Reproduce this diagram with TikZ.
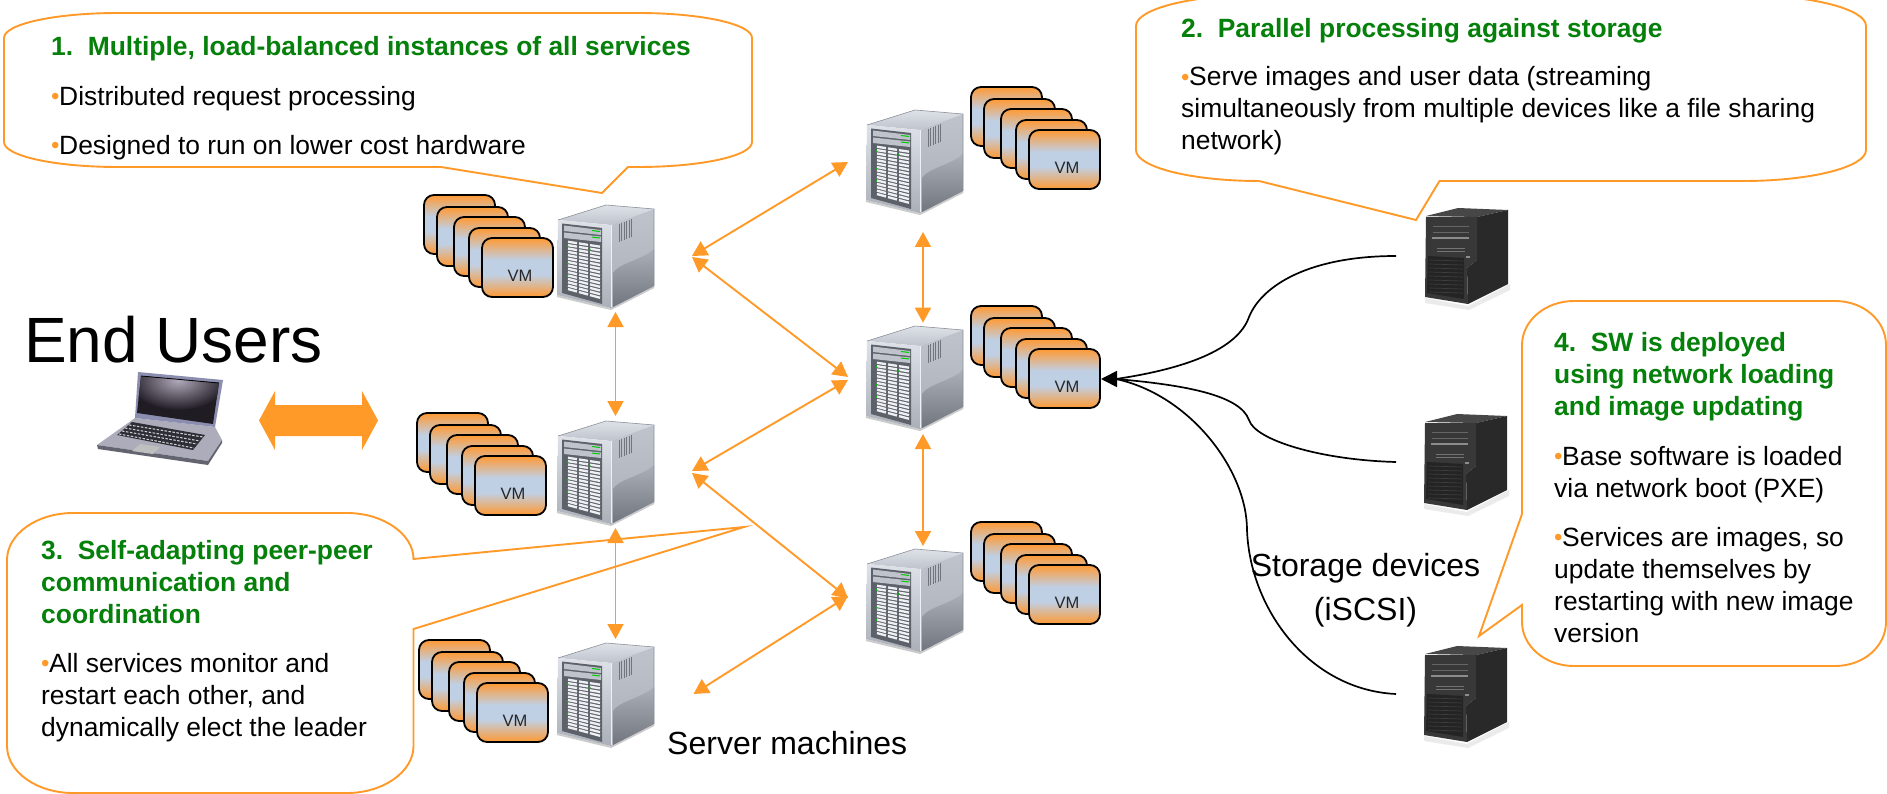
\documentclass[tikz,border=0pt]{standalone}
\usepackage{fontspec}
\setmainfont{Liberation Sans}
\usetikzlibrary{arrows.meta}
\definecolor{orl}{RGB}{255,153,40}
\definecolor{vmo}{RGB}{255,153,51}
\definecolor{vmb}{RGB}{192,208,228}
\definecolor{grn}{RGB}{5,128,10}
\definecolor{sva}{RGB}{222,226,232}
\definecolor{svb}{RGB}{190,195,204}
\definecolor{svc}{RGB}{170,175,184}
\definecolor{svd}{RGB}{140,145,154}
\definecolor{sve}{RGB}{112,117,126}
\definecolor{svp}{RGB}{92,97,106}
\definecolor{svs}{RGB}{238,240,243}
\definecolor{lpf}{RGB}{140,142,175}
\definecolor{lpb}{RGB}{172,172,186}
\definecolor{lpd}{RGB}{100,100,112}
\definecolor{lpk}{RGB}{45,45,55}
\definecolor{lpi}{RGB}{178,170,188}
\definecolor{lpo}{RGB}{32,28,36}
\pgfdeclareverticalshading{vmgrad}{100bp}{color(0bp)=(vmo); color(25bp)=(vmo); color(44bp)=(vmb); color(56.5bp)=(vmb); color(75bp)=(vmo); color(100bp)=(vmo)}
\newcommand{\bul}{\makebox[8pt][l]{\color{orl}\fontsize{24}{24}\selectfont\raisebox{0.5pt}{•}}}
\newcommand{\ttl}[1]{{\bfseries\color{grn}#1}}
\tikzset{
 callout/.style={draw=orl,line width=1.9pt,line join=miter},
 blocktext/.style={anchor=north west,inner sep=0pt,align=left,text=black,font=\fontsize{26.4}{32}\selectfont},
 biglabel/.style={inner sep=0pt,text=black,font=\fontsize{32}{38}\selectfont},
 oarrow/.style={draw=orl,line width=1.9pt,{Triangle[length=15pt,width=16pt]}-{Triangle[length=15pt,width=16pt]}},
 bline/.style={draw=black,line width=1.7pt},
 vmbox/.style={draw=black,line width=1.8pt,rounded corners=10pt,shade,shading=vmgrad},
 vmstack/.pic={
  \path[vmbox] (-58,-43) rectangle (13,16);
  \path[vmbox] (-45,-31) rectangle (26,28);
  \path[vmbox] (-28,-21) rectangle (43,38);
  \path[vmbox] (-13,-10) rectangle (58,49);
  \path[vmbox] (0,0) rectangle (71,59);
  \node[inner sep=0pt,font=\fontsize{16.5}{18}\selectfont,text=black!85] (-vm) at (38,38) {VM};
 },
 serverbox/.pic={
  \draw[black!20,line width=2pt] (0,91) -- (54,104) -- (97,82);
  \path[shade,top color=sva,bottom color=svb] (1,15) -- (49,0) -- (97,4) -- (54,20) -- cycle;
  \path[shade,top color=svb,bottom color=svc] (54,20) -- (97,4) -- (97,81) -- (54,103) -- cycle;
  \path[shade,top color=svc,bottom color=sve] (56,102) -- (56,68) .. controls (62,58) and (85,55) .. (97,44) -- (97,81) -- cycle;
  \path[shade,top color=sva,bottom color=svc] (1,15) -- (54,20) -- (54,103) -- (0,90) -- cycle;
  \draw[svs,line width=1pt] (54,20) -- (54,102);
  \fill[svp] (5,18.5) -- (45,23) -- (45,99) -- (5,88) -- cycle;
  \fill[svb] (7,20.5) -- (44,25) -- (44,30) -- (7,26) -- cycle;
  \fill[svb] (7,27.5) -- (44,31.5) -- (44,37) -- (7,33) -- cycle;
  \draw[green!80!black,line width=1pt] (35,25.5) -- (43,26.5) (35,32) -- (43,33);
  \foreach \i in {0,...,14}{
   \foreach \xa/\xb in {11/20,22/31,33/43}{
    \pgfmathsetmacro{\ya}{36+(\xa-6)*.154+(50+(\xa-6)*.128)*\i/15}
    \pgfmathsetmacro{\yb}{36+(\xb-6)*.154+(50+(\xb-6)*.128)*\i/15}
    \draw[svs,line width=2.3pt] (\xa,\ya) -- (\xb,\yb);
   }
  }
  \fill[green!75!black] (9.5,40) rectangle (11,41.5) (9.5,58) rectangle (11,59.5) (9.5,70) rectangle (11,71.5) (32,44) rectangle (33.5,45.5);
  \foreach \vx in {62,64.5,67,69.5,72,74.5}{
   \pgfmathsetmacro{\vta}{19-(\vx-62)*.37}
   \draw[sve,line width=1pt] (\vx,\vta) -- ++(0,18);
  }
  \draw[svd,line width=.6pt] (1,15) -- (49,0) -- (97,4) -- (97,81);
 },
 towerbox/.pic={
  \fill[black!8] (0,90) -- (43,98) -- (85,76) -- (85,82) -- (44,102) -- (0,95) -- cycle;
  \fill[black!72] (1,8) -- (33,0) -- (83,2) -- (52,9) -- cycle;
  \fill[black!84] (52,9) -- (83,2) -- (83,76) -- (43,96) -- (42,60) -- (52,52) -- cycle;
  \fill[black!78] (1,9) -- (52,9) -- (52,52) -- (42,60) -- (43,96) -- (0,89) -- cycle;
  \fill[black!86] (3,48) -- (39,50) -- (39,91) -- (2,85) -- cycle;
  \foreach \gy in {52,56,...,84}{\draw[black!76,line width=.7pt] (4,\gy) -- (38,\gy+1);}
  \draw[black!60,line width=.8pt] (8,18) -- (44,18) (8,24) -- (44,24);
  \draw[black!45,line width=1.4pt] (7,30) -- (44,30);
  \draw[black!55,line width=.8pt] (12,40) -- (40,40) (12,43) -- (40,43);
  \fill[black!45] (41,48) rectangle (45,50);
 }
}
\begin{document}
\begin{tikzpicture}[x=1pt,y=-1pt]
\useasboundingbox (0,0) rectangle (1887,794);
\fill[white] (0,0) rectangle (1887,794);

% callouts
\path[callout] (118,13) -- (638,13) .. controls (701,13) and (752,24) .. (752,38) -- (752,142) .. controls (752,156) and (701,167) .. (638,167) -- (628,167) -- (602,193) -- (441,167) -- (118,167) .. controls (55,167) and (4,156) .. (4,142) -- (4,38) .. controls (4,24) and (55,13) .. (118,13) -- cycle;
\path[callout] (1259,-5) -- (1743,-5) .. controls (1811,-5) and (1866,9) .. (1866,26) -- (1866,150) .. controls (1866,167) and (1811,181) .. (1743,181) -- (1439.5,181) -- (1416,220) -- (1259,181) .. controls (1191,181) and (1136,167) .. (1136,150) -- (1136,26) .. controls (1136,9) and (1191,-5) .. (1259,-5) -- cycle;
\path[callout] (73,513) -- (347,513) .. controls (383,513) and (413.5,534) .. (413.5,559) -- (744,527) -- (413.5,629) -- (413.5,746) .. controls (413.5,772) and (383,793) .. (347,793) -- (73,793) .. controls (37,793) and (7,772) .. (7,746) -- (7,560) .. controls (7,534) and (37,513) .. (73,513) -- cycle;
\path[callout] (1574,301) -- (1835,301) .. controls (1864,301) and (1886,321) .. (1886,345) -- (1886,622) .. controls (1886,646) and (1864,666) .. (1835,666) -- (1574,666) .. controls (1545,666) and (1522,646) .. (1522,622) -- (1522,605) -- (1479,636) -- (1522,514) -- (1522,345) .. controls (1522,321) and (1545,301) .. (1574,301) -- cycle;

% callout texts
\node[blocktext] (t1) at (51,35) {\rule{0pt}{20pt}\ttl{1.\ \ Multiple, load-balanced instances of all services}\\[18pt]\bul Distributed request processing\\[17pt]\bul Designed to run on lower cost hardware};
\node[blocktext] (t2) at (1181,17) {\rule{0pt}{20pt}\ttl{2.\ \ Parallel processing against storage}\\[16.5pt]\bul Serve images and user data (streaming\\simultaneously from multiple devices like a file sharing\\network)};
\node[blocktext] (t3) at (41,539) {\rule{0pt}{20pt}\ttl{3.\ \ Self-adapting peer-peer}\\\ttl{communication and}\\\ttl{coordination}\\[17pt]\bul All services monitor and\\restart each other, and\\dynamically elect the leader};
\node[blocktext] (t4) at (1554,331) {\rule{0pt}{20pt}\ttl{4.\ \ SW is deployed}\\\ttl{using network loading}\\\ttl{and image updating}\\[18pt]\bul Base software is loaded\\via network boot (PXE)\\[17pt]\bul Services are images, so\\update themselves by\\restarting with new image\\version};

% labels
\node[inner sep=0pt,anchor=base west,text=black,font=\fontsize{64}{70}\selectfont] (endusers) at (24,362) {End Users};
\node[biglabel,anchor=base west] (srvlabel) at (667,754) {Server machines};
\node[biglabel,anchor=north,align=center] (stlabel) at (1365.5,547) {\rule{0pt}{29pt}Storage devices\\[6pt](iSCSI)};

% laptop
\fill[lpb] (135,418) -- (215,427) -- (222,440) -- (208,461) -- (97,445) -- cycle;
\fill[lpd] (97,445) -- (208,461) -- (222,440) -- (222,443) -- (208,465) -- (98,449) -- cycle;
\fill[lpk] (132,422) -- (205,435) -- (193,450) -- (117,435) -- cycle;
\foreach \ka/\kb/\kc/\kd in {129/425/203/437,125/428/200/441,122/431/197/444,119/434/194/448}{
 \draw[black!20,line width=1.1pt,dash pattern=on 2.5pt off 1.5pt] (\ka,\kb) -- (\kc,\kd);
}
\fill[black!25] (140,444) -- (160,447) -- (153,454) -- (132,451) -- cycle;
\fill[lpf] (138,372) -- (223,380) -- (215,427) -- (135,418) -- cycle;
\fill[lpo] (141,376) -- (219,383) -- (213,424) -- (137,413) -- cycle;
\begin{scope}
\clip (141,376) -- (219,383) -- (213,424) -- (137,413) -- cycle;
\shade[inner color=lpi,outer color=lpo] (178,380) ellipse[x radius=50,y radius=30];
\end{scope}
\draw[black,line width=.8pt] (141,376) -- (219,383);
\fill[orl] (259,420.5) -- (275,391) -- (275,405) -- (362,405) -- (362,391) -- (378,420.5) -- (362,450) -- (362,436) -- (275,436) -- (275,450) -- cycle;

% servers and vm stacks
\pic (sA) at (557,205) {serverbox};
\pic (sB) at (557,421) {serverbox};
\pic (sC) at (557,643) {serverbox};
\pic (sD) at (866,110) {serverbox};
\pic (sE) at (866,326) {serverbox};
\pic (sF) at (866,549) {serverbox};
\pic (vA) at (482,238) {vmstack};
\pic (vB) at (475,456) {vmstack};
\pic (vC) at (477,683) {vmstack};
\pic (vD) at (1029,130) {vmstack};
\pic (vE) at (1029,349) {vmstack};
\pic (vF) at (1029,565) {vmstack};

% storage towers
\pic (tw1) at (1425,208) {towerbox};
\pic (tw2) at (1424,414) {towerbox};
\pic (tw3) at (1424,646) {towerbox};

% connector ends
\coordinate (abU) at (615.5,312);
\coordinate (abL) at (615.5,416);
\coordinate (bcU) at (615.5,528);
\coordinate (bcL) at (615.5,639);
\coordinate (deU) at (923,232);
\coordinate (deL) at (923,322.7);
\coordinate (efU) at (923,434);
\coordinate (efL) at (923,546);
\coordinate (aD) at (692,256);
\coordinate (aE) at (692,257);
\coordinate (dA) at (848,162);
\coordinate (eA) at (848,377);
\coordinate (bE) at (692,471);
\coordinate (bF) at (692,473);
\coordinate (eB) at (848,380);
\coordinate (fB) at (848,598);
\coordinate (cF) at (693.5,694);
\coordinate (fC) at (848,596);

\draw[oarrow] (abU) -- (abL);
\draw[oarrow] (bcU) -- (bcL);
\draw[oarrow] (deU) -- (deL);
\draw[oarrow] (efU) -- (efL);
\draw[oarrow] (aD) -- (dA);
\draw[oarrow] (aE) -- (eA);
\draw[oarrow] (bE) -- (eB);
\draw[oarrow] (bF) -- (fB);
\draw[oarrow] (cF) -- (fC);

% storage links
\coordinate (c1) at (1396,256);
\coordinate (c2) at (1396,462);
\coordinate (c3) at (1396,694);
\coordinate (hb) at (1116,379);
\coordinate (ht) at (1101,379);
\draw[bline] (c1) .. controls (1310,256) and (1262,285) .. (1249,317) .. controls (1238,348) and (1190,368) .. (hb);
\draw[bline] (c2) .. controls (1320,460) and (1255,440) .. (1249,420) .. controls (1240,395) and (1185,385) .. (hb);
\draw[bline] (c3) .. controls (1310,690) and (1250,610) .. (1247,530) .. controls (1247,470) and (1190,395) .. (hb);
\draw[bline,-{Triangle[length=16pt,width=16pt]}] (hb) -- (ht);
\end{tikzpicture}
\end{document}
